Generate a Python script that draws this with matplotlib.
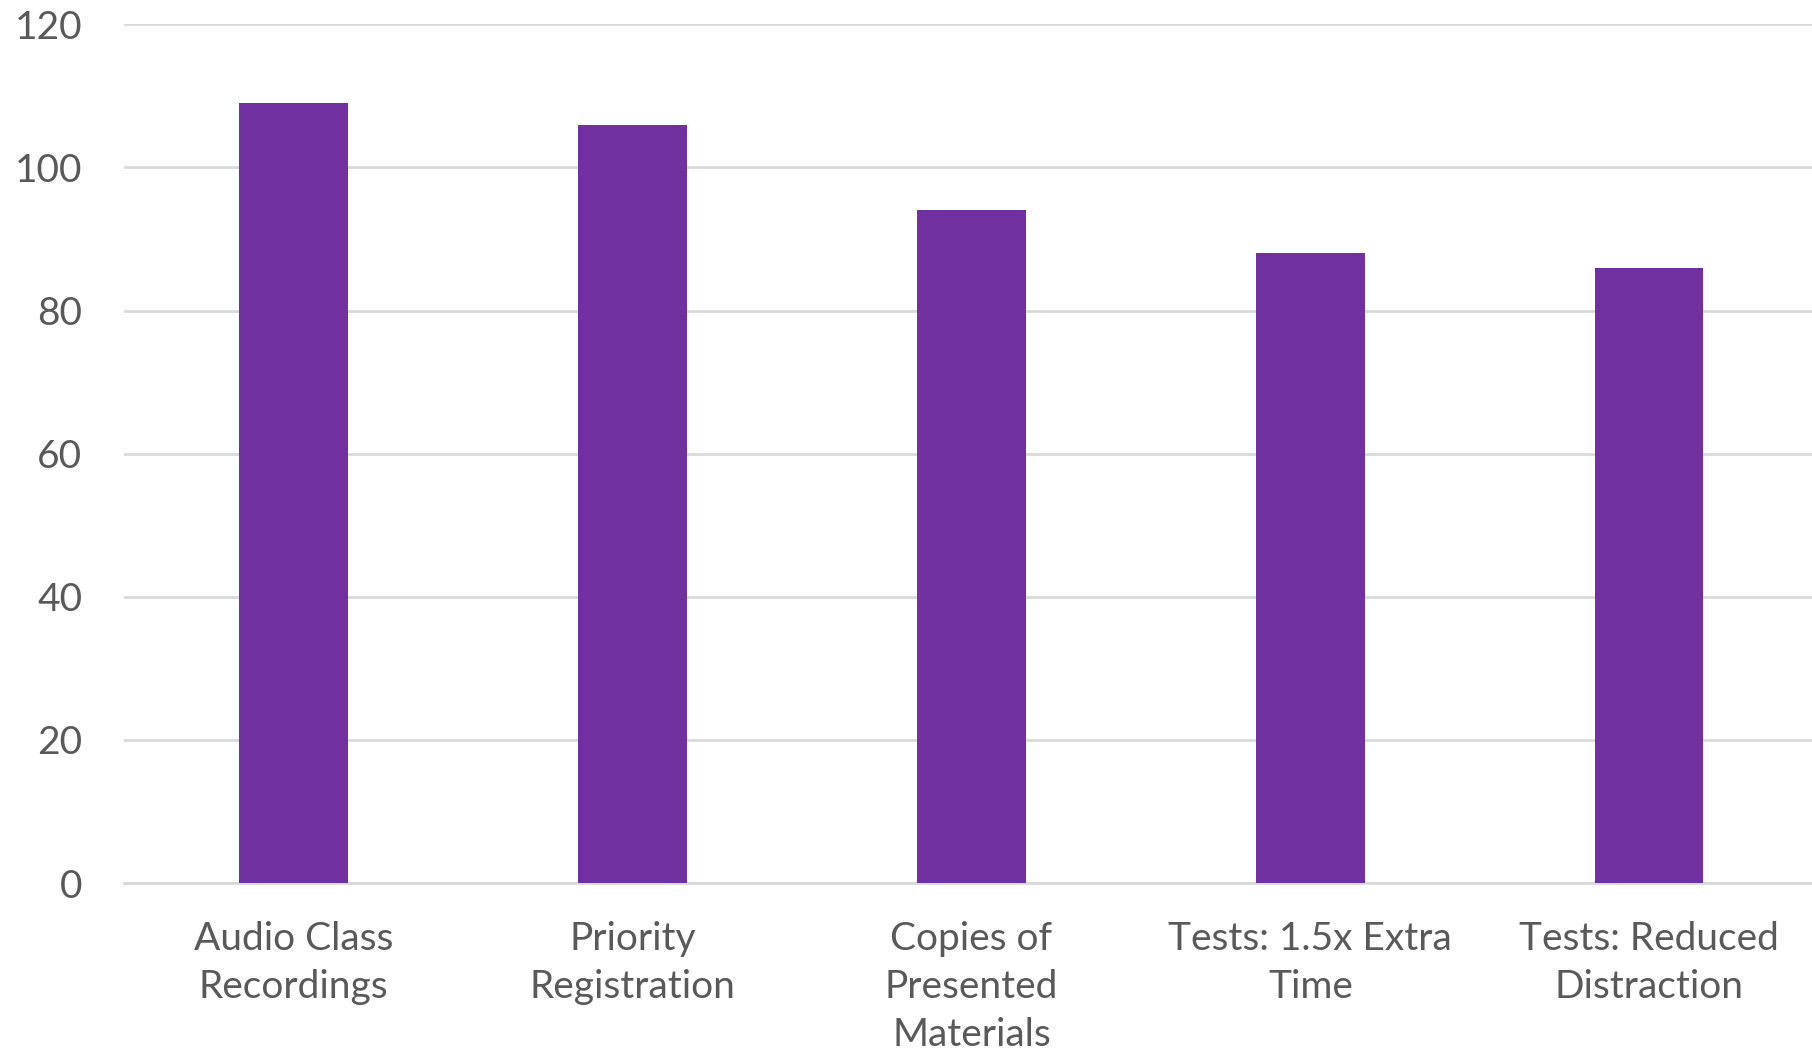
import matplotlib.pyplot as plt

# -- Data -- #
categories = ['Audio Class\nRecordings', 'Priority\nRegistration', 'Copies of\nPresented\nMaterials',
              'Tests: 1.5x Extra\nTime', 'Tests: Reduced\nDistraction']
counts = [109, 106, 94, 88, 86]
y_ticks = [0, 20, 40, 60, 80, 100, 120]

BAR_COLOR = '#7030A0'
GRID_COLOR = '#D9D9D9'
TEXT_COLOR = '#595959'

plt.rcParams['font.family'] = ['Lato', 'DejaVu Sans']

fig = plt.figure(figsize=(18.12, 10.53), dpi=100)
ax = fig.add_axes([0.0685, 0.1614, 0.9352, 0.8155])

x = range(len(categories))
ax.bar(x, counts, width=0.32, color=BAR_COLOR, zorder=3)

ax.set_xlim(-0.5, len(categories) - 0.5)
ax.set_ylim(0, 120)
ax.set_yticks(y_ticks)
ax.set_xticks(list(x))
ax.set_xticklabels(categories, linespacing=1.42)

ax.yaxis.grid(True, color=GRID_COLOR, linewidth=2, zorder=0)
for side in ['top', 'right', 'left']:
    ax.spines[side].set_visible(False)
ax.spines['bottom'].set_color(GRID_COLOR)
ax.spines['bottom'].set_linewidth(2)

ax.tick_params(axis='both', length=0, labelsize=28, labelcolor=TEXT_COLOR)
ax.tick_params(axis='x', pad=27)
ax.tick_params(axis='y', pad=30)

fig.savefig('out.png', dpi=100)
